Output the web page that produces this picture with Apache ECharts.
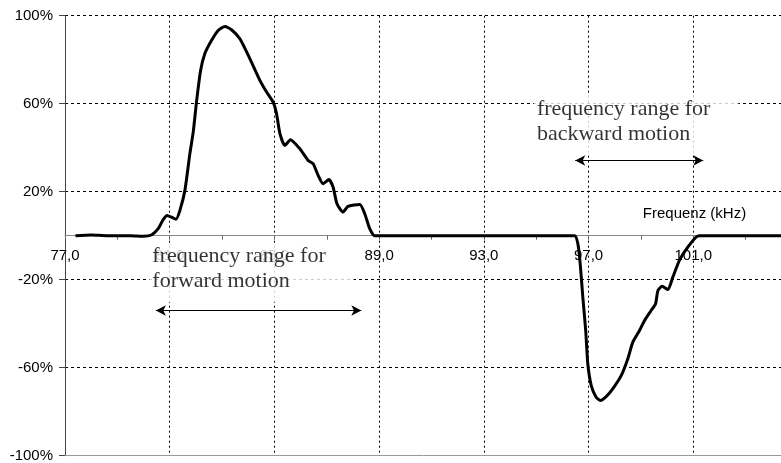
<!DOCTYPE html>
<html>
<head>
<meta charset="utf-8">
<script src="https://cdn.jsdelivr.net/npm/echarts@6/dist/echarts.min.js"></script>
<style>html,body{margin:0;padding:0;background:#fff;}#c{width:781px;height:463px;}</style>
</head>
<body>
<div id="c"></div>
<script>
// ---- data ----
const freqs = [77.4, 78.0, 78.6, 79.5, 80.0, 80.3, 80.56, 80.75, 80.9, 81.07, 81.24, 81.39, 81.58, 81.77, 81.9, 82.03, 82.18, 82.34, 82.6, 82.85, 83.11, 83.36, 83.68, 84.06, 84.45, 84.7, 84.95, 85.08, 85.21, 85.4, 85.61, 85.97, 86.29, 86.48, 86.67, 86.86, 87.08, 87.24, 87.39, 87.62, 87.81, 88.26, 88.45, 88.64, 88.83, 92.0, 96.47, 96.59, 96.68, 96.78, 96.89, 96.97, 97.1, 97.29, 97.45, 97.68, 97.93, 98.25, 98.5, 98.69, 98.95, 99.14, 99.39, 99.56, 99.65, 99.81, 100.03, 100.22, 100.47, 100.79, 101.11, 101.24, 105.0];
const amps  = [0, 0.3, 0, 0, -0.3, 0.3, 3.2, 7.3, 9.2, 8.4, 7.5, 11.5, 20.6, 37.3, 47.3, 61.5, 75.1, 82.7, 88.8, 93.3, 95.1, 93.6, 89.5, 80.5, 70.5, 65.3, 60.7, 55.5, 46.4, 41.0, 43.6, 39.5, 34.2, 32.7, 27.4, 23.6, 25.5, 22.1, 14.5, 10.7, 13.3, 14.2, 10.0, 3.2, 0, 0, 0, -3.6, -12.7, -27.9, -43.0, -58.2, -68.0, -73.4, -74.9, -73.0, -69.5, -63.5, -55.9, -48.4, -43.0, -38.5, -34.0, -30.9, -24.9, -23.0, -24.5, -18.8, -11.2, -5.2, -0.6, 0, 0];

const xMin = 77, xMax = 105, xStep = 4;
const yMin = -100, yMax = 100, yStep = 40;
const xAxisName = 'Frequenz (kHz)';

// annotations: text box anchors (data coords) and range arrows
const annoText = ['frequency range for\nforward motion', 'frequency range for\nbackward motion'];
const annoX = [80.24, 94.93];
const annoY = [-3.5, 63.6];
const arrowFrom = [80.47, 96.49];
const arrowTo = [88.32, 101.38];
const arrowY = [-34, 34.2];

const W = 781, H = 463;
const gridTop = 15.7, gridBottom = 7.3;
const plotH = H - gridTop - gridBottom;
const zeroOffset = -plotH * (0 - yMin) / (yMax - yMin);

const chart = echarts.init(document.getElementById('c'), null, {renderer: 'canvas'});

const curve = freqs.map((f, i) => [f, amps[i]]);
const annos = annoText.map((t, i) => ({name: t, value: [annoX[i], annoY[i]]}));
const arrows = arrowFrom.map((a, i) => [{coord: [a, arrowY[i]]}, {coord: [arrowTo[i], arrowY[i]]}]);

const option = {
  animation: false,
  backgroundColor: '#fff',
  textStyle: {fontFamily: 'Liberation Sans'},
  grid: {left: 65, right: -17, top: gridTop, bottom: gridBottom, containLabel: false, outerBoundsMode: 'none'},
  xAxis: {
    type: 'value', min: xMin, max: xMax, interval: xStep, position: 'bottom', offset: zeroOffset,
    name: xAxisName, nameLocation: 'end', nameGap: -103.5,
    nameTextStyle: {fontSize: 15, color: '#000', align: 'center', verticalAlign: 'bottom', padding: [0, 0, 14, 0], fontFamily: 'Liberation Sans'},
    axisLine: {show: true, onZero: false, lineStyle: {color: '#888', width: 1}},
    axisTick: {show: true, length: 4, lineStyle: {color: '#666'}},
    minorTick: {show: true, splitNumber: 2, length: 4, lineStyle: {color: '#666'}},
    axisLabel: {show: true, showMaxLabel: false, fontSize: 15, color: '#000', margin: 13, formatter: v => v.toFixed(1).replace('.', ',')},
    splitLine: {show: true, lineStyle: {color: '#000', width: 1, type: [2, 3]}}
  },
  yAxis: {
    type: 'value', min: yMin, max: yMax, interval: yStep,
    axisLine: {show: true, lineStyle: {color: '#444', width: 1}},
    axisTick: {show: true, length: 6, lineStyle: {color: '#444'}},
    axisLabel: {fontSize: 15, color: '#000', margin: 12, formatter: '{value}%'},
    splitLine: {show: true, lineStyle: {color: '#000', width: 1, type: [3, 3]}}
  },
  series: [{
    type: 'line', data: curve, showSymbol: false, symbol: 'none',
    smooth: 0.2, lineStyle: {color: '#000', width: 3}, z: 3,
    markLine: {
      silent: true, symbol: ['arrow', 'arrow'], symbolSize: [8, 10],
      label: {show: false},
      lineStyle: {color: '#000', width: 1, type: 'solid'},
      data: arrows.concat([[{symbol: 'none', lineStyle: {color: '#999'}, coord: [xMin, yMin]}, {symbol: 'none', coord: [xMax, yMin]}]])
    }
  }, {
    type: 'scatter', data: annos, symbolSize: 1, zlevel: 1,
    itemStyle: {color: 'rgba(0,0,0,0)'}, z: 4, silent: true,
    label: {
      show: true, position: [0, 0], align: 'left', verticalAlign: 'top',
      formatter: p => p.name,
      fontFamily: 'Liberation Serif', fontSize: 22, lineHeight: 25, color: '#000',
      backgroundColor: '#fff', padding: [1, 28, 8, 3]
    }
  }]
};
chart.setOption(option);
</script>
</body>
</html>
